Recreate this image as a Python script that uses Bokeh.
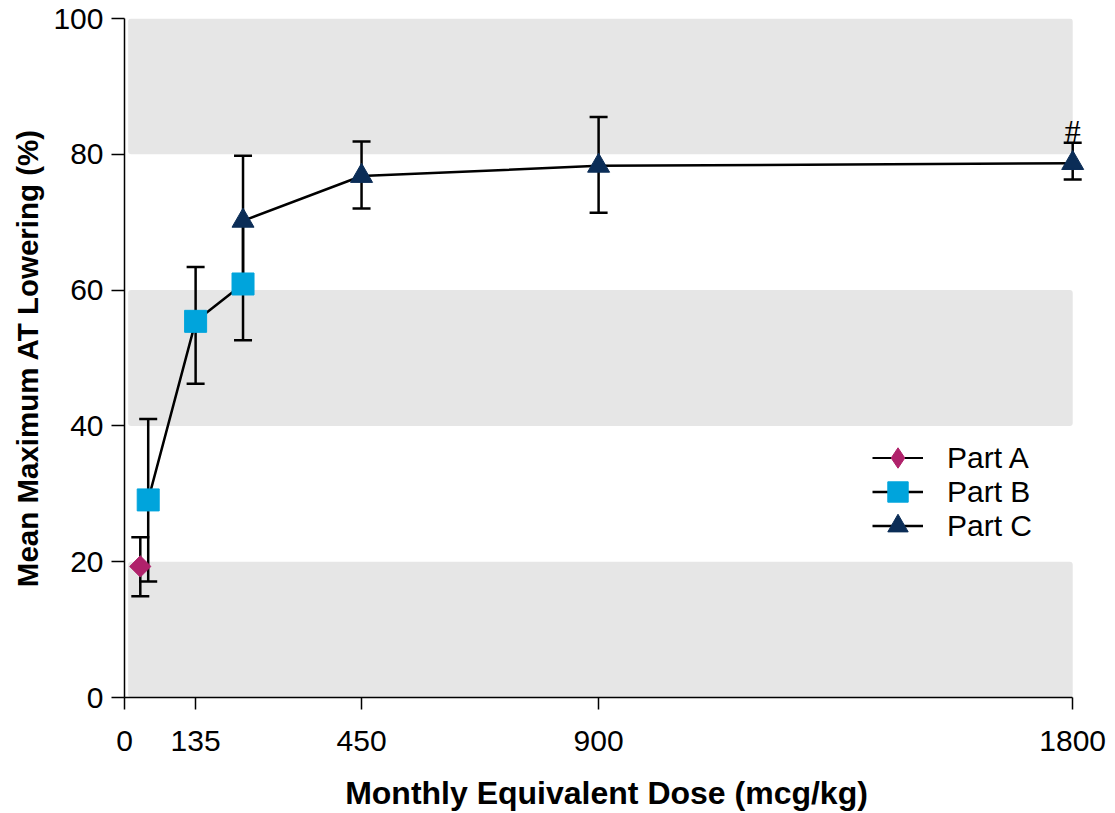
import numpy as np
from bokeh.plotting import figure
from bokeh.models import (Range1d, ColumnDataSource, Whisker, TeeHead, Legend,
                          LegendItem, FixedTicker, BoxAnnotation)
from bokeh.core.properties import value
from bokeh.embed import file_html
from bokeh.resources import INLINE

# ---------------- data ----------------
part_a_dose = [30]
part_a_mean = [19.3]
part_a_lower = [14.9]
part_a_upper = [23.6]

part_b_dose = [45, 135, 225]
part_b_mean = [29.1, 55.4, 60.9]
part_b_lower = [17.1, 46.2, 52.6]
part_b_upper = [41.0, 63.4, 69.6]

part_c_dose = [225, 450, 900, 1800]
part_c_mean = [70.2, 76.8, 78.3, 78.7]
part_c_lower = [61.5, 72.0, 71.4, 76.3]
part_c_upper = [79.8, 81.9, 85.5, 81.7]

x_ticks = [0, 135, 450, 900, 1800]
y_ticks = [0, 20, 40, 60, 80, 100]
band_bottoms = [0, 40, 80]
band_tops = [20, 60, 100]
note_text = ["#"]
note_dose = [1800]
note_y = [83.4]
legend_labels = ["Part A", "Part B", "Part C"]

# ---------------- style ----------------
FONT = "Liberation Sans"
COL_A = "#B0226B"
COL_B = "#00A4DC"
COL_C = "#0B2D57"
BAND = "#E6E6E6"

p = figure(width=1115, height=813, output_backend="svg", toolbar_location=None,
           x_range=Range1d(0, 1830), y_range=Range1d(0, 100),
           min_border_left=124, min_border_right=27, min_border_top=18,
           min_border_bottom=115)
p.outline_line_color = None
p.xgrid.visible = False
p.ygrid.visible = False
p.background_fill_color = "white"

# background bands
for b, t in zip(band_bottoms, band_tops):
    p.add_layout(BoxAnnotation(left=7, right=x_ticks[-1], bottom=b, top=t,
                               fill_color=BAND, fill_alpha=1, line_color=None,
                               border_radius=3, level="underlay"))

# error bars
for dose, lo, up in [(part_a_dose, part_a_lower, part_a_upper),
                     (part_b_dose, part_b_lower, part_b_upper),
                     (part_c_dose, part_c_lower, part_c_upper)]:
    src = ColumnDataSource(dict(base=dose, lower=lo, upper=up))
    w = Whisker(source=src, base="base", lower="lower", upper="upper",
                dimension="height", line_color="black", line_width=2.5,
                upper_head=TeeHead(size=18, line_color="black", line_width=2.5),
                lower_head=TeeHead(size=18, line_color="black", line_width=2.5),
                level="underlay")
    p.add_layout(w)

# connecting lines
a_line = p.line(part_a_dose, part_a_mean, line_color="black", line_width=2)
b_line = p.line(part_b_dose, part_b_mean, line_color="black", line_width=2.5)
c_line = p.line(part_c_dose, part_c_mean, line_color="black", line_width=2.5)

# markers
a_leg = p.scatter(part_a_dose, part_a_mean, marker="diamond", size=14,
                  fill_color=COL_A, line_color=COL_A)
a_pts = p.scatter(part_a_dose, part_a_mean, marker="square", angle=np.pi / 4,
                  size=15, fill_color=COL_A, line_color=COL_A)
b_pts = p.scatter(part_b_dose, part_b_mean, marker="square", size=22,
                  fill_color=COL_B, line_color=COL_B)
c_pts = p.scatter(part_c_dose, part_c_mean, marker="triangle", size=22,
                  fill_color=COL_C, line_color=COL_C)

p.text(x=note_dose, y=note_y, text=note_text, text_align="center",
       text_baseline="middle", text_font=value("Liberation Serif"),
       text_font_size="32px", text_color="black")

# legend: one block per entry so that the rows can sit close together
legend_renderers = [[a_line, a_leg], [b_line, b_pts], [c_line, c_pts]]
legend_bottoms = [212, 178, 144]
for lab, rends, yb in zip(legend_labels, legend_renderers, legend_bottoms):
    lg = Legend(items=[LegendItem(label=lab, renderers=rends)],
                location=(748, yb), orientation="vertical",
                glyph_width=51, glyph_height=55, spacing=0,
                label_standoff=24, label_text_font=FONT,
                label_text_font_size="30px", label_text_color="black",
                padding=0, margin=0, border_line_color=None,
                background_fill_alpha=0)
    p.add_layout(lg)

# axes
for ax in (p.xaxis[0], p.yaxis[0]):
    ax.axis_line_color = "black"
    ax.axis_line_width = 1.5
    ax.major_tick_line_color = "black"
    ax.major_tick_line_width = 1.5
    ax.major_tick_in = 0
    ax.minor_tick_line_color = None
    ax.major_label_text_font = FONT
    ax.major_label_text_font_size = "30px"
    ax.major_label_text_color = "black"
    ax.axis_label_text_font = FONT
    ax.axis_label_text_font_style = "bold"
    ax.axis_label_text_color = "black"

p.xaxis.ticker = FixedTicker(ticks=x_ticks)
p.xaxis.bounds = (x_ticks[0], x_ticks[-1])
p.xaxis.major_tick_out = 12
p.xaxis.major_label_standoff = 21
p.xaxis.axis_label = "Monthly Equivalent Dose (mcg/kg)"
p.xaxis.axis_label_text_font_size = "32px"
p.xaxis.axis_label_standoff = 21

p.yaxis.ticker = FixedTicker(ticks=y_ticks)
p.yaxis.major_tick_out = 13
p.yaxis.major_label_standoff = 8
p.yaxis.axis_label = "Mean Maximum AT Lowering (%)"
p.yaxis.axis_label_text_font_size = "29.5px"
p.yaxis.axis_label_standoff = 6

open("out.html", "w").write(file_html(p, INLINE))
